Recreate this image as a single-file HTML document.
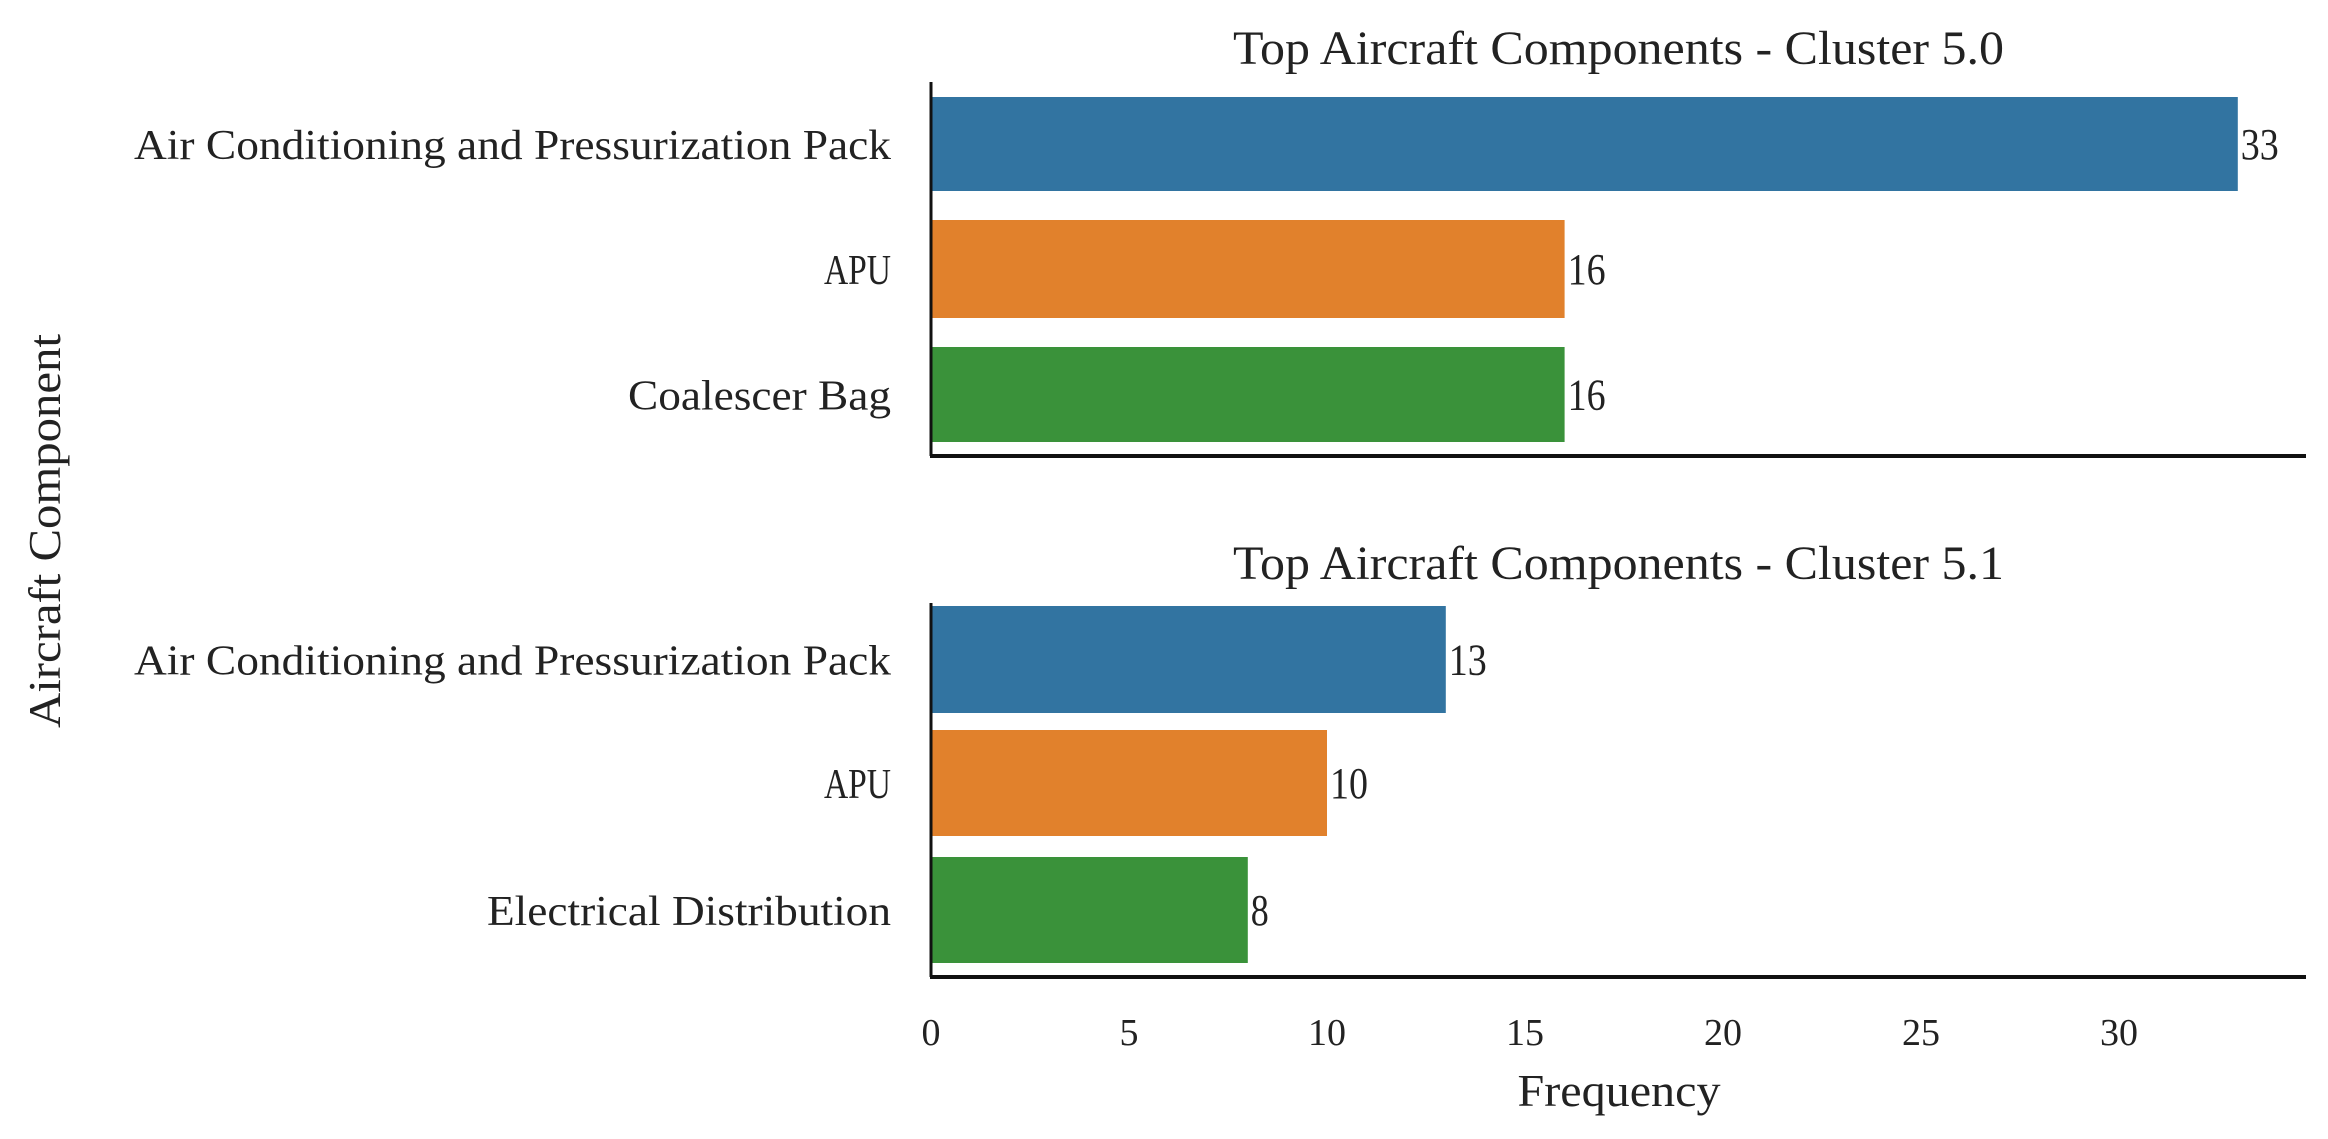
<!DOCTYPE html>
<html><head><meta charset="utf-8"><style>
html,body{margin:0;padding:0;background:#fff}
svg{display:block;font-family:"Liberation Serif",serif}
</style></head><body>
<svg id="chart" width="2328" height="1139" viewBox="0 0 2328 1139"></svg>
<script>
const categoriesTop = ["Air Conditioning and Pressurization Pack","APU","Coalescer Bag"];
const valuesTop = [33,16,16];
const categoriesBottom = ["Air Conditioning and Pressurization Pack","APU","Electrical Distribution"];
const valuesBottom = [13,10,8];
const titles = ["Top Aircraft Components - Cluster 5.0","Top Aircraft Components - Cluster 5.1"];
const xTicks = [0,5,10,15,20,25,30];
const colors = ["#3274a1","#e1812c","#3a923a"];

const svg = document.getElementById('chart');
const NS = "http://www.w3.org/2000/svg";
const X0 = 931, PX = 39.6, XEND = 2306;
const xs = v => X0 + v * PX;
function mk(tag, attrs, parent){const e=document.createElementNS(NS,tag);for(const k in attrs)e.setAttribute(k,attrs[k]);(parent||svg).appendChild(e);return e;}

const panels = [
  {cats:categoriesTop, vals:valuesTop, title:titles[0], top:82, bottom:456, bars:[[97,191],[220,318],[347,442]], ty:64, name:'top-panel'},
  {cats:categoriesBottom, vals:valuesBottom, title:titles[1], top:603, bottom:977, bars:[[606,713],[730,836],[857,963]], ty:579, name:'bottom-panel'}
];
const labelWidth = {"Air Conditioning and Pressurization Pack":757,"APU":67,"Coalescer Bag":263,"Electrical Distribution":404};

panels.forEach((p,pi)=>{
  const g = mk('g',{});
  
  
  const t = mk('text',{x:(X0+XEND)/2,y:p.ty,'font-size':48,'text-anchor':'middle',fill:'#222',textLength:771,lengthAdjust:'spacingAndGlyphs'},g);
  t.textContent = p.title;
  
  
  p.cats.forEach((c,i)=>{
    const [y1,y2] = p.bars[i];
    const r = mk('rect',{x:X0,y:y1,width:xs(p.vals[i])-X0,height:y2-y1,fill:colors[i]},g);
    
    
    const cy = (y1+y2)/2 + 15;
    const l = mk('text',{x:891,y:cy,'font-size':42,'text-anchor':'end',fill:'#222',textLength:labelWidth[c],lengthAdjust:'spacingAndGlyphs'},g);
    l.textContent = c;
    
    
    const v = mk('text',{x:xs(p.vals[i])+3,y:cy,'font-size':44,fill:'#222',textLength:p.vals[i]>=10?38:18,lengthAdjust:'spacingAndGlyphs'},g);
    v.textContent = p.vals[i];
    
    
  });
  const ya = mk('line',{x1:X0,y1:p.top,x2:X0,y2:p.bottom,stroke:'#111','stroke-width':3},g);
  
  
  const xa = mk('line',{x1:X0-1,y1:p.bottom,x2:XEND,y2:p.bottom,stroke:'#111','stroke-width':4},g);
  
  
});

xTicks.forEach(t=>{
  const e = mk('text',{x:xs(t),y:1045,'font-size':38,'text-anchor':'middle',fill:'#222'});
  e.textContent = t;
  
  
});
const xt = mk('text',{x:1619,y:1106,'font-size':46,'text-anchor':'middle',fill:'#222',textLength:203,lengthAdjust:'spacingAndGlyphs'});
xt.textContent = 'Frequency';


const yt = mk('text',{x:0,y:0,'font-size':46,'text-anchor':'middle',fill:'#222',transform:'translate(60,531) rotate(-90)',textLength:394,lengthAdjust:'spacingAndGlyphs'});
yt.textContent = 'Aircraft Component';


</script>
</body></html>
